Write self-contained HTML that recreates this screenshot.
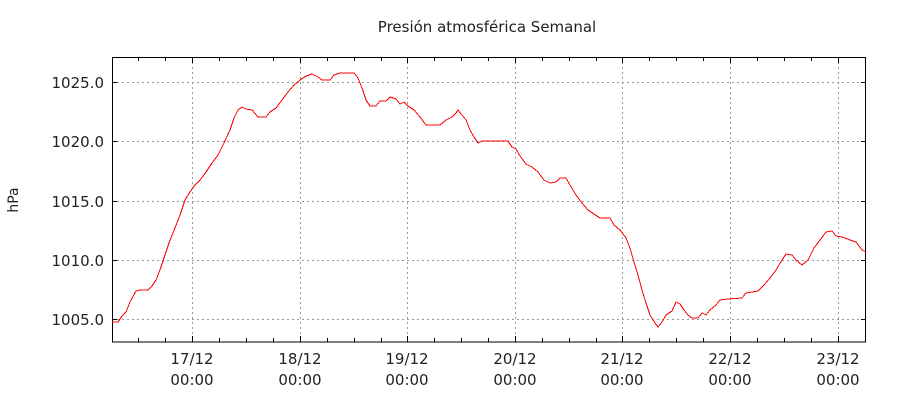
<!DOCTYPE html>
<html><head><meta charset="utf-8"><style>body{margin:0;background:#fff}svg{display:block}</style></head><body>
<svg width="900" height="400" xmlns="http://www.w3.org/2000/svg" font-family="DejaVu Sans, Liberation Sans, sans-serif">
<rect width="900" height="400" fill="#fff"/>
<text x="487" y="32" font-size="15" text-anchor="middle" fill="#222">Presión atmosférica Semanal</text>
<text transform="translate(18,200) rotate(-90)" font-size="14" text-anchor="middle" fill="#222">hPa</text>
<g stroke="#999" stroke-dasharray="2,3" stroke-width="1">
<line x1="112" x2="866" y1="82.5" y2="82.5"/><line x1="112" x2="866" y1="141.5" y2="141.5"/><line x1="112" x2="866" y1="201.5" y2="201.5"/><line x1="112" x2="866" y1="260.5" y2="260.5"/><line x1="112" x2="866" y1="319.5" y2="319.5"/>
<line x1="192.5" x2="192.5" y1="57" y2="342"/><line x1="300.5" x2="300.5" y1="57" y2="342"/><line x1="407.5" x2="407.5" y1="57" y2="342"/><line x1="515.5" x2="515.5" y1="57" y2="342"/><line x1="622.5" x2="622.5" y1="57" y2="342"/><line x1="730.5" x2="730.5" y1="57" y2="342"/><line x1="838.5" x2="838.5" y1="57" y2="342"/>
</g>
<g stroke="#000" stroke-width="1">
<rect x="112.5" y="57.5" width="753" height="284.5" fill="none"/>
<path d="M112 82.5h5M112 141.5h5M112 201.5h5M112 260.5h5M112 319.5h5M861 82.5h5M861 141.5h5M861 201.5h5M861 260.5h5M861 319.5h5"/>
<path d="M138.5 342v-4M165.5 342v-4M192.5 342v-6M219.5 342v-4M246.5 342v-4M273.5 342v-4M300.5 342v-6M327.5 342v-4M354.5 342v-4M381.5 342v-4M407.5 342v-6M434.5 342v-4M461.5 342v-4M488.5 342v-4M515.5 342v-6M542.5 342v-4M569.5 342v-4M596.5 342v-4M622.5 342v-6M649.5 342v-4M676.5 342v-4M703.5 342v-4M730.5 342v-6M757.5 342v-4M784.5 342v-4M811.5 342v-4M838.5 342v-6M865.5 342v-4
M138.5 57v4M165.5 57v4M192.5 57v6M219.5 57v4M246.5 57v4M273.5 57v4M300.5 57v6M327.5 57v4M354.5 57v4M381.5 57v4M407.5 57v6M434.5 57v4M461.5 57v4M488.5 57v4M515.5 57v6M542.5 57v4M569.5 57v4M596.5 57v4M622.5 57v6M649.5 57v4M676.5 57v4M703.5 57v4M730.5 57v6M757.5 57v4M784.5 57v4M811.5 57v4M838.5 57v6"/>
</g>
<g font-size="15" fill="#222" text-anchor="end">
<text x="104" y="88">1025.0</text><text x="104" y="147">1020.0</text><text x="104" y="207">1015.0</text><text x="104" y="266">1010.0</text><text x="104" y="325">1005.0</text>
</g>
<g font-size="15" fill="#222" text-anchor="middle">
<text x="192" y="364">17/12</text><text x="192" y="385">00:00</text>
<text x="300" y="364">18/12</text><text x="300" y="385">00:00</text>
<text x="407" y="364">19/12</text><text x="407" y="385">00:00</text>
<text x="515" y="364">20/12</text><text x="515" y="385">00:00</text>
<text x="622" y="364">21/12</text><text x="622" y="385">00:00</text>
<text x="730" y="364">22/12</text><text x="730" y="385">00:00</text>
<text x="838" y="364">23/12</text><text x="838" y="385">00:00</text>
</g>
<polyline fill="none" stroke="#f00" stroke-width="1" shape-rendering="crispEdges" points="112,322 118,322 122,316 126,312 130,302 136,291 140,290 148,290 152,286 156,280 160,270 165,255 170,240 175,228 180,215 185,200 190,192 195,185 200,180 206,172 212,163 218,155 224,143 230,130 234,118 238,110 242,107 246,109 252,110 258,117 266,117 270,112 276,108 282,100 288,92 294,85 300,80 306,76 312,74 318,77 322,80 330,80 334,75 340,73 354,73 358,78 362,88 366,100 370,106 376,106 380,101 386,101 390,97 396,99 400,104 404,102 408,106 414,110 420,117 426,125 440,125 446,120 452,117 456,113 458,110 462,115 466,120 470,130 474,137 478,143 482,141 500,141 508,141 512,147 516,149 520,156 526,164 532,167 538,172 544,180 550,183 556,182 560,178 566,178 570,185 576,195 582,203 588,210 594,214 600,218 610,218 614,225 620,230 626,238 630,248 634,262 638,275 642,290 646,303 650,315 655,323 658,327 662,322 666,315 672,311 676,302 680,304 684,310 688,315 692,318 698,318 702,313 706,315 710,310 716,305 720,300 728,299 742,298 746,293 758,291 764,285 770,278 776,270 782,260 786,254 792,255 796,260 802,265 808,260 814,248 820,240 826,232 832,231 836,236 842,237 850,240 856,242 862,250 866,252"/>
</svg>
</body></html>
